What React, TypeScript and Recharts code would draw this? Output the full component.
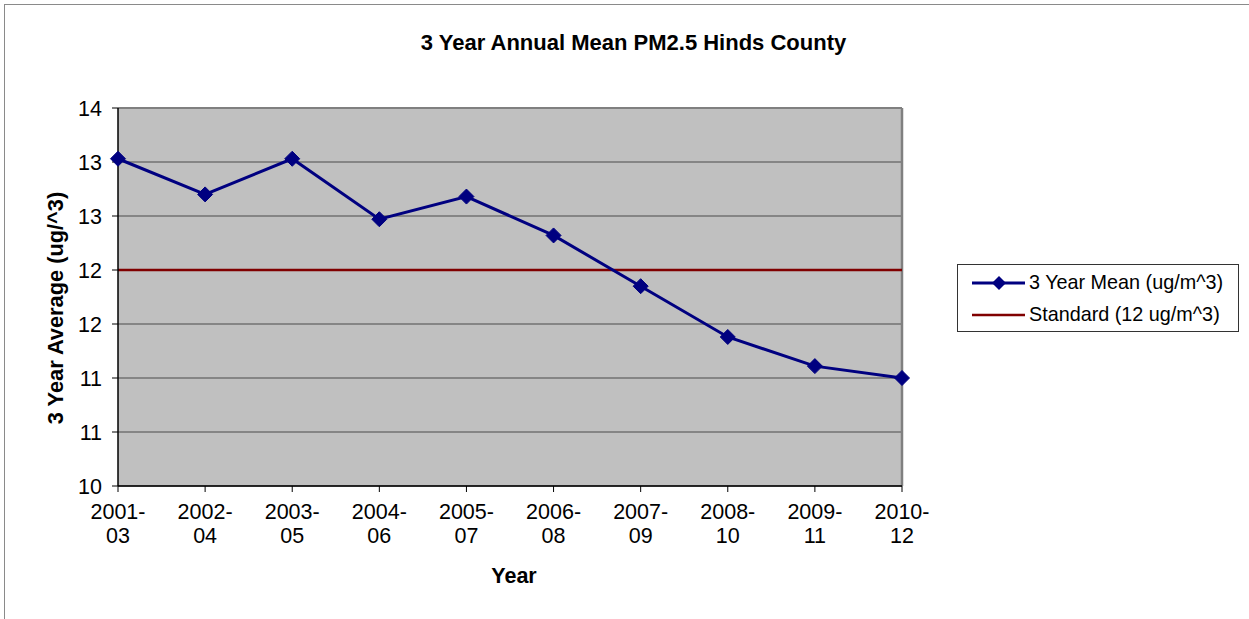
import React from 'react';
import { LineChart, Line, XAxis, YAxis, CartesianGrid, ReferenceLine } from 'recharts';

const periods = ['2001-03', '2002-04', '2003-05', '2004-06', '2005-07', '2006-08', '2007-09', '2008-10', '2009-11', '2010-12'];
const meanValues = [13.03, 12.7, 13.03, 12.47, 12.68, 12.32, 11.85, 11.38, 11.11, 11.0];
const standardValues = [12, 12, 12, 12, 12, 12, 12, 12, 12, 12];
const yTicks = [10, 10.5, 11, 11.5, 12, 12.5, 13, 13.5];

const seriesNames = ['3 Year Mean (ug/m^3)', 'Standard (12 ug/m^3)'];
const chartTitle = '3 Year Annual Mean PM2.5 Hinds County';
const xTitle = 'Year';
const yTitle = '3 Year Average (ug/^3)';

const data = periods.map((p, i) => ({ period: p, mean: meanValues[i], standard: standardValues[i] }));

const FONT = '"Liberation Sans", Arial, sans-serif';
const NAVY = '#000080';
const RED = '#800000';

const Diamond = (props: any) => {
  const { cx, cy } = props;
  if (cx == null || cy == null) return null;
  const r = 7.5;
  return (
    <polygon
      points={`${cx},${cy - r} ${cx + r},${cy} ${cx},${cy + r} ${cx - r},${cy}`}
      fill={NAVY}
      stroke={NAVY}
      strokeWidth={1}
    />
  );
};

const XTick = (props: any) => {
  const { x, y, payload } = props;
  const parts = String(payload.value).split('-');
  return (
    <text x={x} y={y} textAnchor="middle" fontSize={21.5} fill="#000" fontFamily={FONT}>
      <tspan x={x} y={y + 25}>{parts[0]}-</tspan>
      <tspan x={x} y={y + 49}>{parts[1]}</tspan>
    </text>
  );
};

const YLabel = (props: any) => {
  const vb = props.viewBox || {};
  const cy = (vb.y ?? 108) + (vb.height ?? 378) / 2 + 11;
  return (
    <text
      x={63}
      y={cy}
      transform={`rotate(-90, 63, ${cy})`}
      textAnchor="middle"
      fontSize={21.8}
      fontWeight="bold"
      fill="#000"
      fontFamily={FONT}
    >
      {yTitle}
    </text>
  );
};

const XLabel = (props: any) => {
  const vb = props.viewBox || {};
  const cx = (vb.x ?? 118) + (vb.width ?? 784) / 2 + 4;
  return (
    <text x={cx} y={583} textAnchor="middle" fontSize={21.5} fontWeight="bold" fill="#000" fontFamily={FONT}>
      {xTitle}
    </text>
  );
};

export default function App() {
  return (
    <div style={{ position: 'absolute', left: 0, top: 0, width: 1249, height: 619, background: '#fff', fontFamily: FONT, overflow: 'hidden' }}>
      <div
        style={{
          position: 'absolute',
          left: 4,
          top: 4,
          width: 1245,
          height: 615,
          borderLeft: '1px solid #8a8a8a',
          borderTop: '1px solid #8a8a8a',
          boxSizing: 'border-box',
        }}
      />
      <div
        style={{
          position: 'absolute',
          left: 0,
          width: 1267,
          top: 30,
          textAlign: 'center',
          fontSize: 22,
          fontWeight: 'bold',
          lineHeight: '25px',
          color: '#000',
        }}
      >
        {chartTitle}
      </div>
      <div style={{ position: 'absolute', left: 0, top: 0 }}>
        <LineChart width={1249} height={619} data={data} margin={{ top: 108, right: 347, bottom: 0, left: 0 }}>
          <CartesianGrid vertical={false} fill="#C0C0C0" stroke="#4a4a4a" strokeWidth={1} fillOpacity={1} />
          <ReferenceLine y={13.5} stroke="#808080" strokeWidth={2} />
          <ReferenceLine x={periods[periods.length - 1]} stroke="#808080" strokeWidth={2.5} />
          <XAxis
            dataKey="period"
            height={133}
            tickSize={6}
            tickMargin={2}
            tick={<XTick />}
            axisLine={{ stroke: '#000', strokeWidth: 1.5 }}
            tickLine={{ stroke: '#000' }}
            interval={0}
            label={<XLabel />}
          />
          <YAxis
            width={118}
            domain={[10, 13.5]}
            ticks={yTicks}
            interval={0}
            tickSize={6}
            tickMargin={10}
            tickFormatter={(v: number) => String(Math.round(v))}
            tick={{ fontSize: 21.5, fill: '#000', fontFamily: FONT }}
            axisLine={{ stroke: '#000', strokeWidth: 1.5 }}
            tickLine={{ stroke: '#000' }}
            allowDataOverflow
            label={<YLabel />}
          />
          <Line
            dataKey="standard"
            name={seriesNames[1]}
            stroke={RED}
            strokeWidth={2.5}
            dot={false}
            isAnimationActive={false}
          />
          <Line
            dataKey="mean"
            name={seriesNames[0]}
            stroke={NAVY}
            strokeWidth={3}
            dot={<Diamond />}
            activeDot={false}
            isAnimationActive={false}
          />
        </LineChart>
      </div>
      <div
        style={{
          position: 'absolute',
          left: 957,
          top: 264,
          width: 282,
          height: 68,
          border: '1px solid #333',
          boxSizing: 'border-box',
          background: '#fff',
        }}
      >
        <svg width={282} height={68} style={{ position: 'absolute', left: 0, top: 0 }}>
          <line x1={14} y1={18} x2={67} y2={18} stroke={NAVY} strokeWidth={3} />
          <polygon points="41,11 48,18 41,25 34,18" fill={NAVY} />
          <line x1={14} y1={50} x2={67} y2={50} stroke={RED} strokeWidth={2.5} />
        </svg>
        <div style={{ position: 'absolute', left: 71, top: 5, fontSize: 19.8, lineHeight: '24px', whiteSpace: 'nowrap', color: '#000' }}>
          {seriesNames[0]}
        </div>
        <div style={{ position: 'absolute', left: 71, top: 37, fontSize: 19.8, lineHeight: '24px', whiteSpace: 'nowrap', color: '#000' }}>
          {seriesNames[1]}
        </div>
      </div>
    </div>
  );
}
